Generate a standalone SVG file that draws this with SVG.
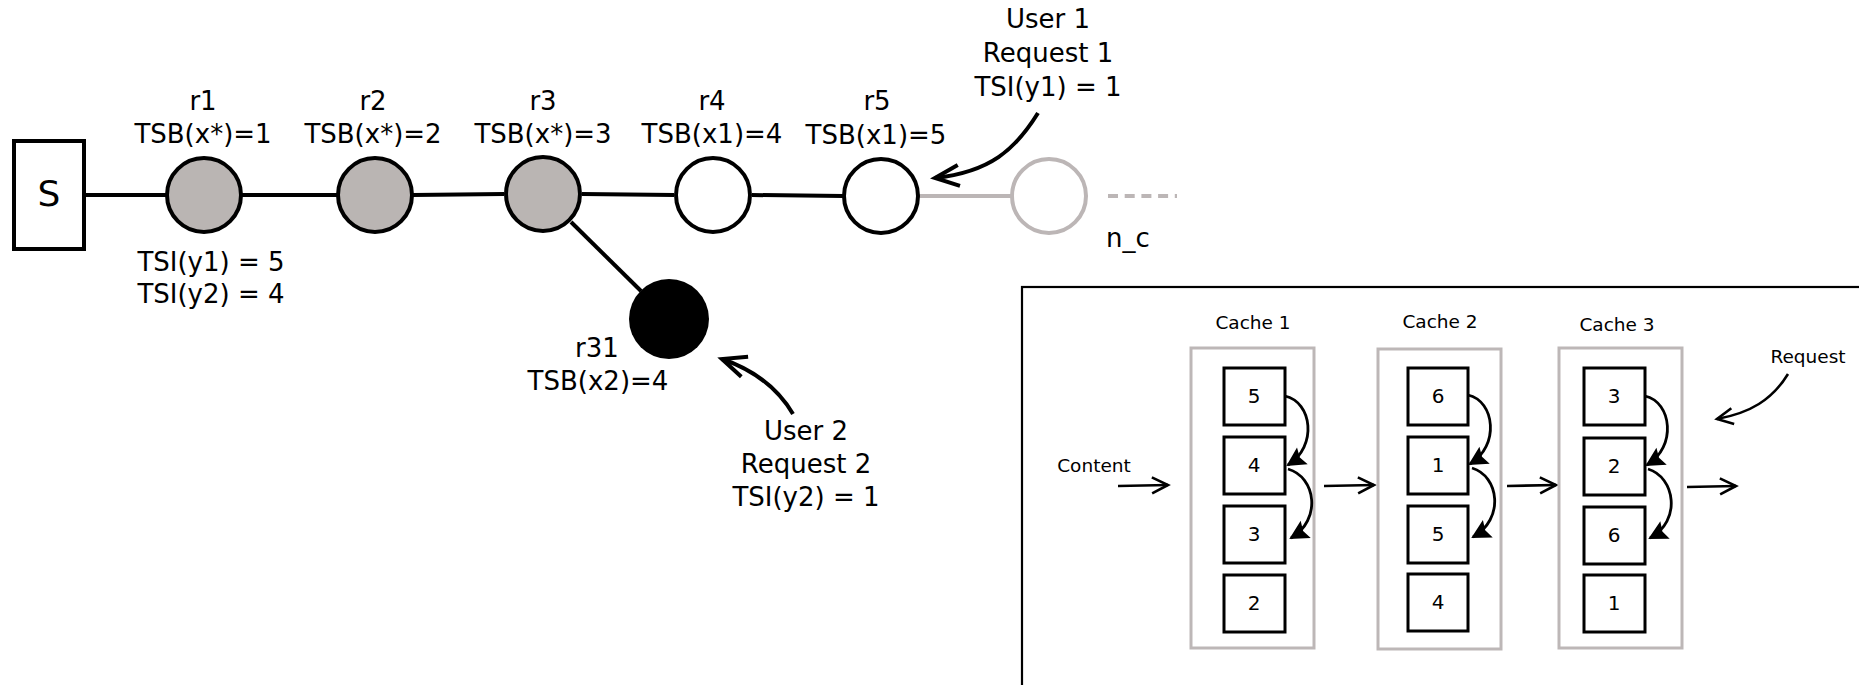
<svg xmlns="http://www.w3.org/2000/svg" width="1859" height="685" viewBox="0 0 1859 685">
<style>
  text { font-family: "DejaVu Sans", "Liberation Sans", sans-serif; fill: #000; }
  .lbl { font-size: 26px; text-anchor: middle; }
  .big { font-size: 36px; text-anchor: middle; }
  .sm { font-size: 18.5px; text-anchor: middle; }
  .num { font-size: 20px; text-anchor: middle; }
  .edge { stroke: #000; stroke-width: 4; fill: none; }
  .gedge { stroke: #bcb6b6; stroke-width: 4; fill: none; }
  .node { stroke: #000; stroke-width: 4; }
  .grayfill { fill: #bab5b3; }
  .white { fill: #fff; }
  .cachebox { fill: none; stroke: #bdb7b7; stroke-width: 3; }
  .item { fill: #fff; stroke: #000; stroke-width: 3; }
  .curve { stroke: #000; stroke-width: 2.8; fill: none; marker-end: url(#fh); }
  .flow { stroke: #000; stroke-width: 2.6; fill: none; marker-end: url(#oas); }
  .user { stroke: #000; stroke-width: 4; fill: none; marker-end: url(#oal); }
</style>
<defs>
  <marker id="oal" markerUnits="userSpaceOnUse" refX="0" refY="0" markerWidth="40" markerHeight="40" orient="auto" overflow="visible">
    <path d="M-24,-10.5 L0,0 L-24,10.5" fill="none" stroke="#000" stroke-width="4"/>
  </marker>
  <marker id="oas" markerUnits="userSpaceOnUse" refX="0" refY="0" markerWidth="30" markerHeight="30" orient="auto" overflow="visible">
    <path d="M-16,-8 L0,0 L-16,8" fill="none" stroke="#000" stroke-width="2.6"/>
  </marker>
  <marker id="fh" markerUnits="userSpaceOnUse" refX="0" refY="0" markerWidth="30" markerHeight="30" orient="auto" overflow="visible">
    <path d="M2,0 L-17,-10 L-14,0 L-17,10 Z" fill="#000"/>
  </marker>
</defs>
<rect width="1859" height="685" fill="#fff"/>

<g id="connectors">
  <line class="edge" x1="84" y1="195" x2="166" y2="195"/>
  <line class="edge" x1="242" y1="195" x2="337" y2="195"/>
  <line class="edge" x1="413" y1="195" x2="504" y2="194"/>
  <line class="edge" x1="582" y1="194" x2="674" y2="195"/>
  <line class="edge" x1="752" y1="195" x2="843" y2="196"/>
  <line class="gedge" x1="919" y1="196" x2="1011" y2="196"/>
  <line class="gedge" x1="1108" y1="196" x2="1177" y2="196" stroke-dasharray="10 6.7"/>
  <line class="edge" x1="571" y1="222" x2="641" y2="291"/>
  <path class="user" d="M1038,113 C1015,150 990,172 935,178"/>
  <path class="user" d="M793,414 C780,392 760,372 722,359"/>
</g>

<g id="node-S">
  <rect x="14" y="141" width="70" height="108" fill="#fff" stroke="#000" stroke-width="4"/>
  <text class="big" x="49" y="206">S</text>
</g>
<g id="node-r1">
  <circle class="node grayfill" cx="204" cy="195" r="37"/>
  <text class="lbl" x="203" y="110">r1</text>
  <text class="lbl" x="203" y="143">TSB(x*)=1</text>
  <text class="lbl" x="211" y="271">TSI(y1) = 5</text>
  <text class="lbl" x="211" y="303">TSI(y2) = 4</text>
</g>
<g id="node-r2">
  <circle class="node grayfill" cx="375" cy="195" r="37"/>
  <text class="lbl" x="373" y="110">r2</text>
  <text class="lbl" x="373" y="143">TSB(x*)=2</text>
</g>
<g id="node-r3">
  <circle class="node grayfill" cx="543" cy="194" r="37"/>
  <text class="lbl" x="543" y="110">r3</text>
  <text class="lbl" x="543" y="143">TSB(x*)=3</text>
</g>
<g id="node-r4">
  <circle class="node white" cx="713" cy="195" r="37"/>
  <text class="lbl" x="712" y="110">r4</text>
  <text class="lbl" x="712" y="143">TSB(x1)=4</text>
</g>
<g id="node-r5">
  <circle class="node white" cx="881" cy="196" r="37"/>
  <text class="lbl" x="877" y="110">r5</text>
  <text class="lbl" x="876" y="144">TSB(x1)=5</text>
</g>
<g id="node-nc">
  <circle cx="1049" cy="196" r="37" fill="#fff" stroke="#bcb6b6" stroke-width="4"/>
  <text class="lbl" x="1128" y="247">n_c</text>
</g>
<g id="node-r31">
  <circle cx="669" cy="319" r="40" fill="#000"/>
  <text class="lbl" x="597" y="357">r31</text>
  <text class="lbl" x="598" y="390">TSB(x2)=4</text>
</g>
<g id="label-user1">
  <text class="lbl" x="1048" y="28">User 1</text>
  <text class="lbl" x="1048" y="62">Request 1</text>
  <text class="lbl" x="1048" y="96">TSI(y1) = 1</text>
</g>
<g id="label-user2">
  <text class="lbl" x="806" y="440">User 2</text>
  <text class="lbl" x="806" y="473">Request 2</text>
  <text class="lbl" x="806" y="506">TSI(y2) = 1</text>
</g>

<g id="cache-panel">
  <rect x="1022" y="287" width="900" height="500" fill="none" stroke="#000" stroke-width="2.2"/>
  <text class="sm" x="1094" y="472">Content</text>
  <text class="sm" x="1808" y="363">Request</text>
  <g id="panel-arrows">
    <line class="flow" x1="1118" y1="486" x2="1168" y2="485"/>
    <line class="flow" x1="1324" y1="486" x2="1374" y2="485"/>
    <line class="flow" x1="1507" y1="486" x2="1556" y2="485"/>
    <line class="flow" x1="1687" y1="487" x2="1736" y2="486"/>
    <path class="flow" d="M1788,374 C1772,400 1750,413 1717,419"/>
  </g>
  <g id="cache1">
    <text class="sm" x="1253" y="329">Cache 1</text>
    <rect class="cachebox" x="1191" y="348" width="123" height="300"/>
    <rect class="item" x="1224" y="368" width="61" height="57"/><text class="num" x="1254" y="403">5</text>
    <rect class="item" x="1224" y="437" width="61" height="57"/><text class="num" x="1254" y="472">4</text>
    <rect class="item" x="1224" y="506" width="61" height="57"/><text class="num" x="1254" y="541">3</text>
    <rect class="item" x="1224" y="575" width="61" height="57"/><text class="num" x="1254" y="610">2</text>
    <path class="curve" d="M1285,396 C1312,402 1318,446 1288,465"/>
    <path class="curve" d="M1288,469 C1316,477 1322,520 1291,538"/>
  </g>
  <g id="cache2">
    <text class="sm" x="1440" y="328">Cache 2</text>
    <rect class="cachebox" x="1378" y="349" width="123" height="300"/>
    <rect class="item" x="1408" y="368" width="60" height="57"/><text class="num" x="1438" y="403">6</text>
    <rect class="item" x="1408" y="437" width="60" height="57"/><text class="num" x="1438" y="472">1</text>
    <rect class="item" x="1408" y="506" width="60" height="57"/><text class="num" x="1438" y="541">5</text>
    <rect class="item" x="1408" y="574" width="60" height="57"/><text class="num" x="1438" y="609">4</text>
    <path class="curve" d="M1468,395 C1495,401 1500,446 1470,464"/>
    <path class="curve" d="M1472,468 C1499,476 1505,519 1473,537"/>
  </g>
  <g id="cache3">
    <text class="sm" x="1617" y="331">Cache 3</text>
    <rect class="cachebox" x="1559" y="348" width="123" height="300"/>
    <rect class="item" x="1584" y="368" width="61" height="57"/><text class="num" x="1614" y="403">3</text>
    <rect class="item" x="1584" y="438" width="61" height="57"/><text class="num" x="1614" y="473">2</text>
    <rect class="item" x="1584" y="507" width="61" height="57"/><text class="num" x="1614" y="542">6</text>
    <rect class="item" x="1584" y="575" width="61" height="57"/><text class="num" x="1614" y="610">1</text>
    <path class="curve" d="M1645,396 C1672,402 1677,447 1647,465"/>
    <path class="curve" d="M1648,469 C1675,477 1682,521 1650,538"/>
  </g>
</g>
</svg>
